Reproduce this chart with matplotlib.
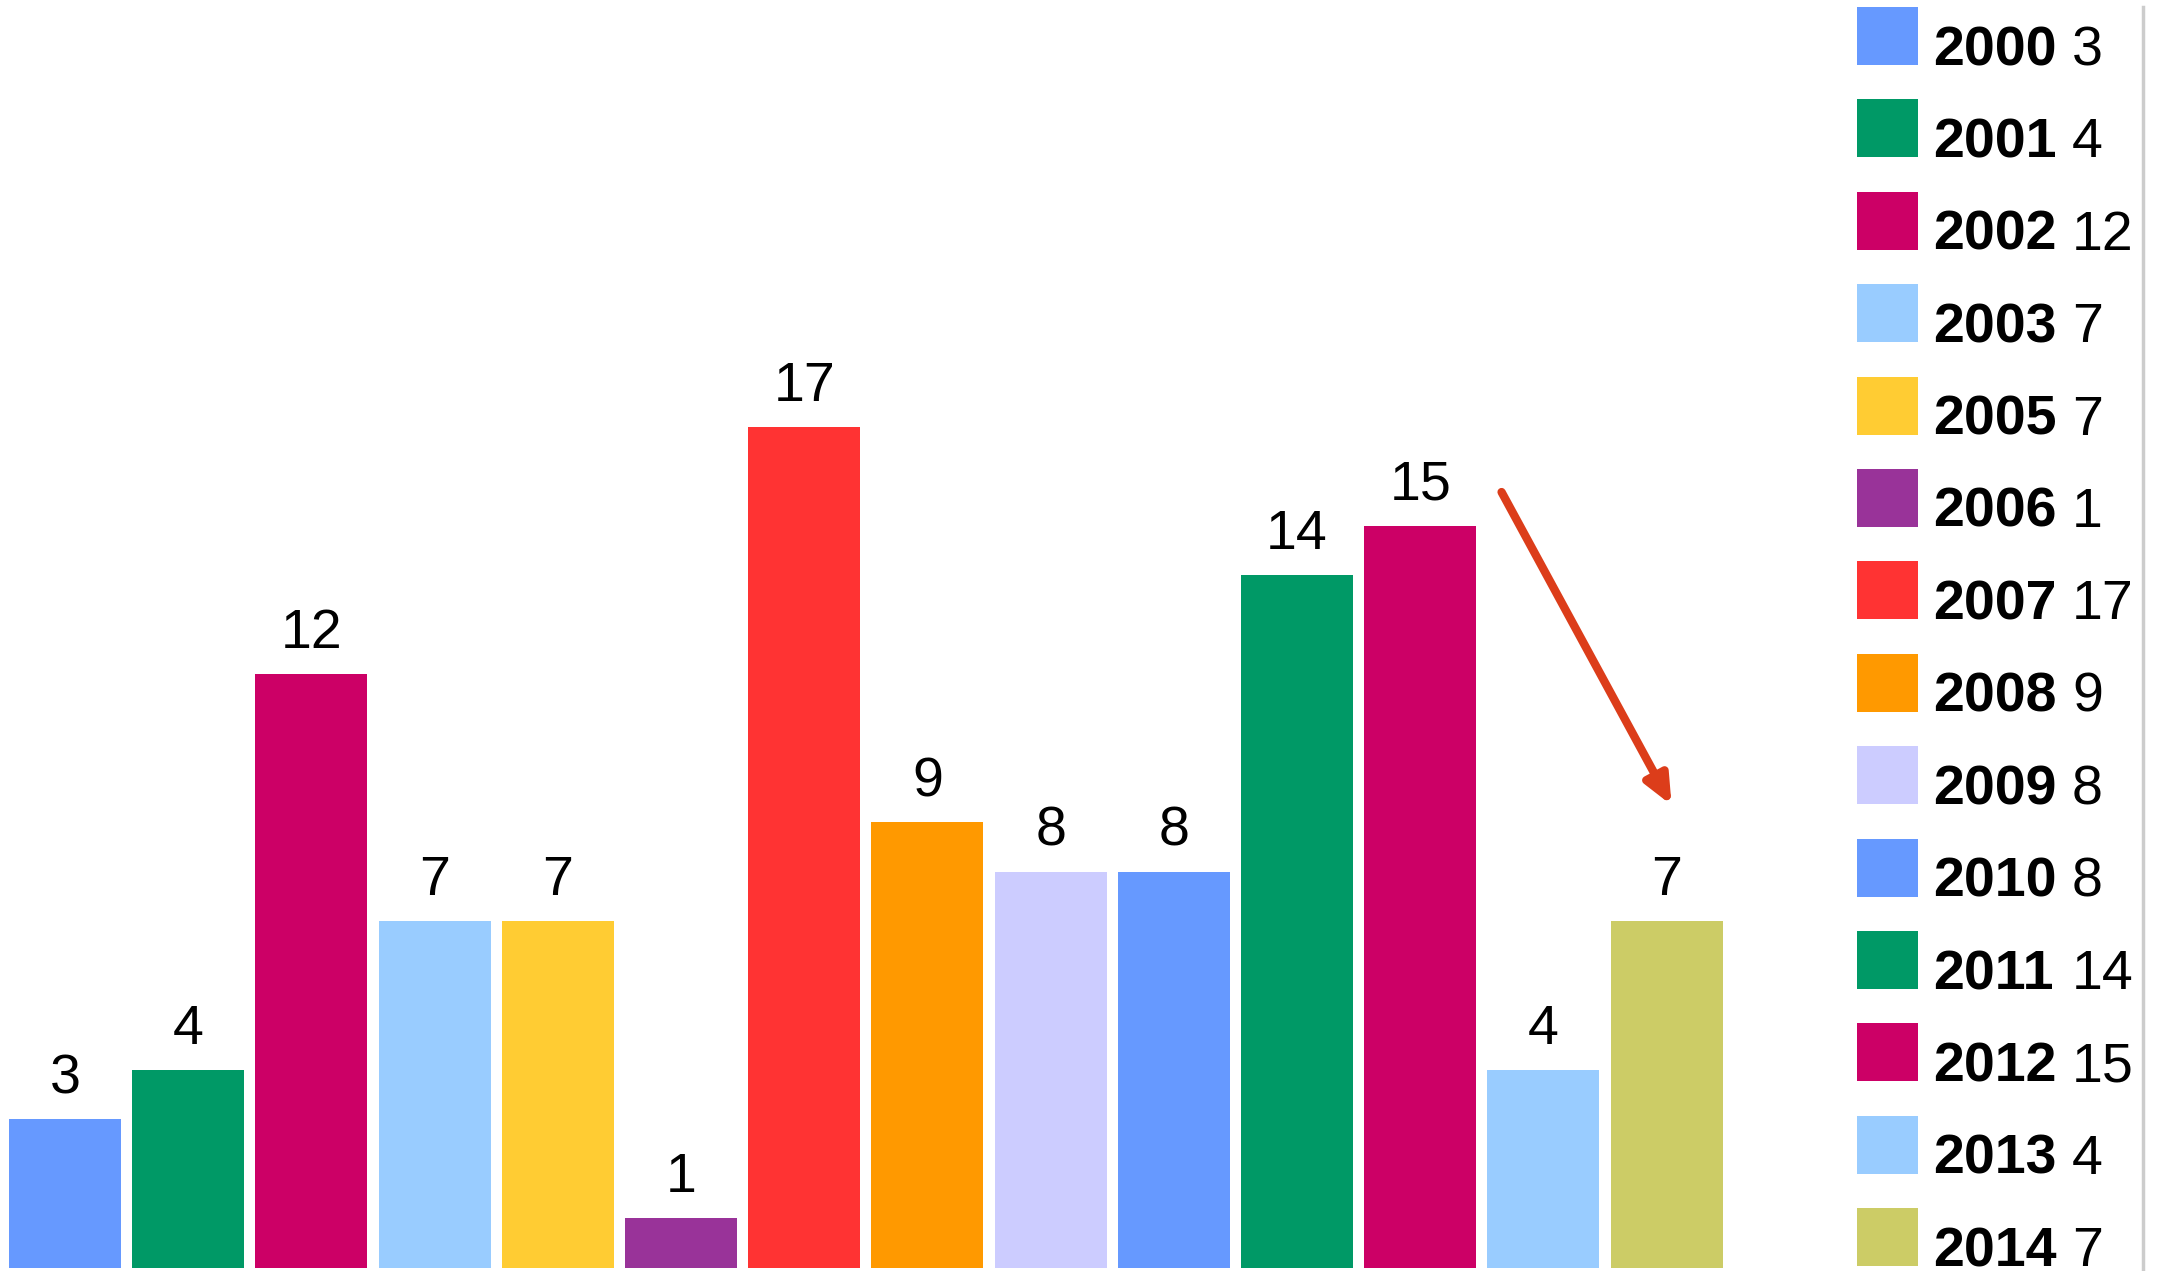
import matplotlib.pyplot as plt
import matplotlib.patches as patches

years = ["2000", "2001", "2002", "2003", "2005", "2006", "2007",
         "2008", "2009", "2010", "2011", "2012", "2013", "2014"]
counts = [3, 4, 12, 7, 7, 1, 17, 9, 8, 8, 14, 15, 4, 7]
colors = ["#6699FF", "#009966", "#CC0066", "#99CCFF", "#FFCC33", "#993399", "#FF3333",
          "#FF9900", "#CCCCFF", "#6699FF", "#009966", "#CC0066", "#99CCFF", "#CCCC66"]

W, H = 2161, 1271
fig = plt.figure(figsize=(W / 100, H / 100), dpi=100)
plt.rcParams['font.family'] = ['Liberation Sans', 'DejaVu Sans']

# bar area
ax = fig.add_axes([0, 3.5 / H, 1840 / W, 1267.5 / H])
x = list(range(len(years)))
bars = ax.bar(x, counts, width=0.909, color=colors, edgecolor="none")
ax.bar_label(bars, labels=[str(c) for c in counts], padding=10, fontsize=40, color="black")
ax.set_xlim(-0.528, 14.407)
ax.set_ylim(0, 25.63)
ax.axis('off')

# red arrow pointing at the 2014 bar
ax.annotate("", xy=(13.04, 9.35), xytext=(11.66, 15.68),
            arrowprops=dict(arrowstyle="-|>,head_length=1.7,head_width=0.75",
                            color="#DC3D1A", lw=6, shrinkA=0, shrinkB=0))

# legend drawn by hand on the right
for i, (yr, c, col) in enumerate(zip(years, counts, colors)):
    top = 7 + 92.4 * i
    bottom = top + 58
    fig.patches.append(patches.Rectangle((1857 / W, 1 - bottom / H), 61 / W, 58 / H,
                                         transform=fig.transFigure, facecolor=col,
                                         edgecolor="none"))
    fig.text(1933 / W, 1 - bottom / H, yr, fontsize=40, fontweight="bold",
             va="baseline", ha="left")
    fig.text(2072 / W, 1 - bottom / H, str(c), fontsize=40, va="baseline", ha="left")

fig.add_artist(plt.Line2D([2143 / W, 2143 / W], [0, 1 - 7 / H], transform=fig.transFigure,
                          color="#CCCCCC", lw=2.5))

fig.savefig("out.png", dpi=100)
